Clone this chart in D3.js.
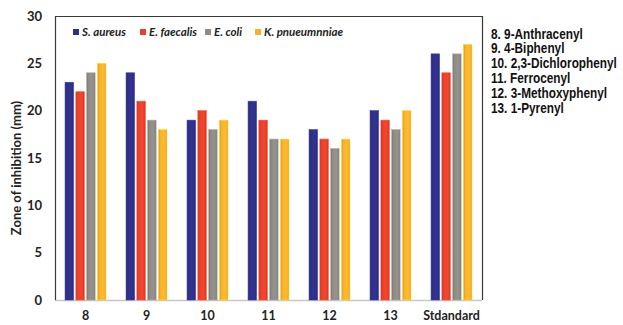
<!DOCTYPE html>
<html><head><meta charset="utf-8">
<script src="https://cdn.jsdelivr.net/npm/d3@7"></script>
<style>body{margin:0;background:#fff}svg{display:block}</style>
</head><body>
<svg id="c" width="623" height="325"></svg>
<script>
const categories = ["8","9","10","11","12","13","Stdandard"];
const seriesNames = ["S. aureus","E. faecalis","E. coli","K. pnueumnniae"];
const sAureus    = [23,24,19,21,18,20,26];
const eFaecalis  = [22,21,20,19,17,19,24];
const eColi      = [24,19,18,17,16,18,26];
const kPneumoniae= [25,18,19,17,17,20,27];
const yTicks = [0,5,10,15,20,25,30];
const compoundList = ["8. 9-Anthracenyl","9. 4-Biphenyl","10. 2,3-Dichlorophenyl","11. Ferrocenyl","12. 3-Methoxyphenyl","13. 1-Pyrenyl"];
const colors = ["#2E3088","#E8412B","#8E8B86","#F9B12B"];
const seriesVals = [sAureus,eFaecalis,eColi,kPneumoniae];

const svg = d3.select("#c");
const L=55,R=482,T=16,B=300;
const x0 = d3.scaleBand().domain(categories).range([L,R]).paddingInner(0.33).paddingOuter(0.165);
const x1 = d3.scaleBand().domain(d3.range(4)).range([0,x0.bandwidth()]).paddingInner(0.22);
const y = d3.scaleLinear().domain([0,30]).range([B,T]);

// gradients
const defs = svg.append("defs");
colors.forEach((c,i)=>{
  const g = defs.append("linearGradient").attr("id","g"+i).attr("x1","0").attr("x2","1").attr("y1","0").attr("y2","0");
  const dk = d3.color(c).darker(0.5), lt = d3.color(c).brighter(0.15);
  g.append("stop").attr("offset","0").attr("stop-color",dk);
  g.append("stop").attr("offset","0.2").attr("stop-color",c);
  g.append("stop").attr("offset","0.6").attr("stop-color",lt);
  g.append("stop").attr("offset","0.85").attr("stop-color",c);
  g.append("stop").attr("offset","1").attr("stop-color",dk);
});

// frame
svg.append("line").attr("x1",L).attr("x2",R).attr("y1",B+0.5).attr("y2",B+0.5).attr("stroke","#c8c8c8").attr("stroke-width",1.5);
svg.append("path").attr("d",`M${L+0.5},${B}V${T+0.5}H${R+0.5}V${B}`).attr("fill","none").attr("stroke","#3a3a3a").attr("stroke-width",1.2);

// bars
const grp = svg.append("g").selectAll("g").data(categories).join("g")
  .attr("transform",d=>`translate(${x0(d)},0)`);
grp.selectAll("rect").data((d,ci)=>seriesVals.map((s,si)=>({si,v:s[ci]}))).join("rect")
  .attr("x",d=>x1(d.si)).attr("width",x1.bandwidth())
  .attr("y",d=>y(d.v)).attr("height",d=>B-y(d.v))
  .attr("fill",d=>`url(#g${d.si})`)
  .attr("stroke",d=>d3.color(colors[d.si]).brighter(0.6)).attr("stroke-width",0.6);

// y axis
const ya = svg.append("g").attr("transform",`translate(${L},0)`)
  .call(d3.axisLeft(y).tickValues(yTicks).tickSize(0).tickPadding(13));
ya.select(".domain").remove();
ya.selectAll("text").attr("font-family","Lato, sans-serif").attr("font-weight","bold").attr("font-size","13px").attr("fill","#222");

// x axis
const xa = svg.append("g").attr("transform",`translate(0,${B})`)
  .call(d3.axisBottom(x0).tickSize(0).tickPadding(11));
xa.select(".domain").remove();
xa.selectAll("text").attr("font-family","Lato, sans-serif").attr("font-weight","bold").attr("font-size","12.5px").attr("fill","#222");

// y label
svg.append("text").attr("transform","translate(21,168) rotate(-90)").attr("text-anchor","middle")
  .attr("font-family","Lato, sans-serif").attr("font-weight","bold").attr("font-size","13px").attr("fill","#222")
  .text("Zone of inhibition (mm)");

// legend
const legX = [73,140,205,255];
const lg = svg.append("g").selectAll("g").data(seriesNames).join("g")
  .attr("transform",(d,i)=>`translate(${legX[i]},33)`);
lg.append("rect").attr("x",0).attr("y",-4).attr("width",6).attr("height",6).attr("fill",(d,i)=>colors[i]);
lg.append("text").attr("x",9).attr("y",3).text(d=>d)
  .attr("font-family","Lato, sans-serif").attr("font-weight","bold").attr("font-style","italic").attr("font-size","11.5px").attr("fill","#222");

// compound list (condensed to fit)
const cl = svg.append("g");
const clText = cl.selectAll("text").data(compoundList).join("text")
  .attr("x",0).attr("y",(d,i)=>i*15).text(d=>d)
  .attr("font-family","'Liberation Sans', Arial, sans-serif").attr("font-weight","bold").attr("font-size","14px").attr("fill","#111");
const maxW = d3.max(clText.nodes(), n=>n.getComputedTextLength());
const sx = Math.min(1, 126/maxW);
cl.attr("transform",`translate(491,38.5) scale(${sx},1)`);
</script>
</body></html>
